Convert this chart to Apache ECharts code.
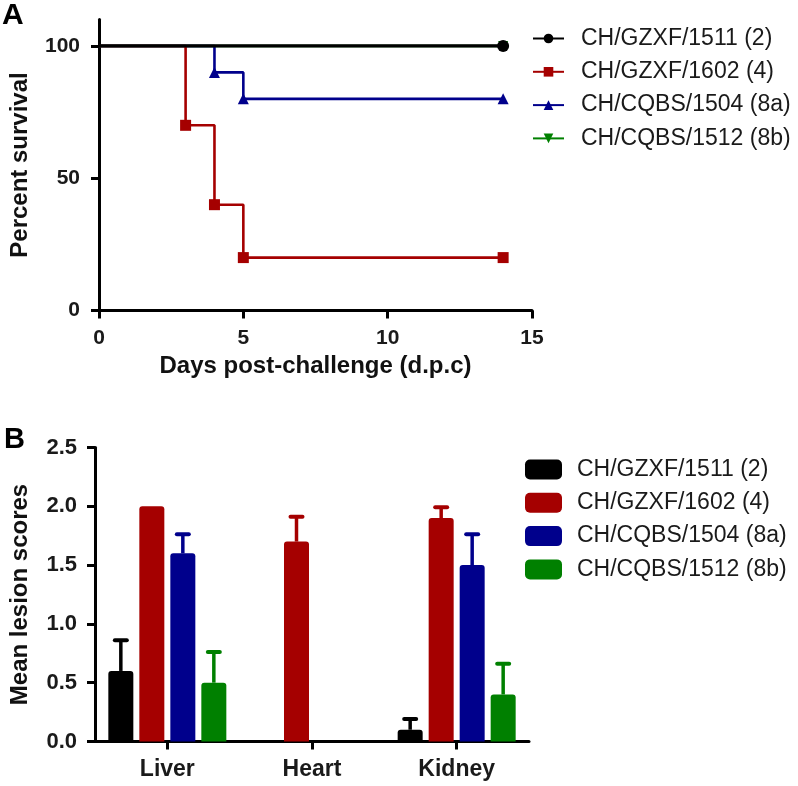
<!DOCTYPE html>
<html>
<head>
<meta charset="utf-8">
<script src="https://cdn.jsdelivr.net/npm/echarts@6/dist/echarts.min.js"></script>
<style>
html,body{margin:0;padding:0;background:#fff;}
#chart{width:798px;height:786px;}
</style>
</head>
<body>
<div id="chart"></div>
<script>
// ---------- Panel A data (survival) ----------
const seriesNames = ['CH/GZXF/1511 (2)', 'CH/GZXF/1602 (4)', 'CH/CQBS/1504 (8a)', 'CH/CQBS/1512 (8b)'];
const seriesColors = ['#000000', '#a50000', '#00008c', '#008000'];
const blackDays = [0, 14];
const blackSurv = [100, 100];
const redDays = [0, 3, 4, 5, 14];
const redSurv = [100, 70, 40, 20, 20];
const blueDays = [0, 4, 5, 14];
const blueSurv = [100, 90, 80, 80];
const greenDays = [0, 14];
const greenSurv = [100, 100];
const survTicksY = [0, 50, 100];

// ---------- Panel B data (lesion scores) ----------
const organs = ['Liver', 'Heart', 'Kidney'];
const blackMean = [0.6, 0, 0.1];
const blackErr = [0.27, 0, 0.1];
const redMean = [2.0, 1.7, 1.9];
const redErr = [0, 0.22, 0.1];
const blueMean = [1.6, 0, 1.5];
const blueErr = [0.17, 0, 0.27];
const greenMean = [0.5, 0, 0.4];
const greenErr = [0.27, 0, 0.27];

const FONT = '"Liberation Sans", Arial, sans-serif';
const BAR_W = 25, BAR_GAP = 6;

function kmData(days, surv) {
  return days.map((d, i) => i === 0 ? { value: [d, surv[i]], symbol: 'none' } : [d, surv[i]]);
}

const kmSets = [[blackDays, blackSurv], [redDays, redSurv], [blueDays, blueSurv], [greenDays, greenSurv]];
const kmSymbols = ['circle', 'rect', 'triangle', 'triangle'];
const kmSizes = [12, 11, 11, 10];
const kmZ = [5, 4, 3, 2];

const series = [];
kmSets.forEach((s, i) => {
  series.push({
    type: 'line', name: seriesNames[i], xAxisIndex: 0, yAxisIndex: 0,
    step: 'end', data: kmData(s[0], s[1]),
    symbol: kmSymbols[i], symbolSize: kmSizes[i], symbolRotate: i === 3 ? 180 : 0,
    showAllSymbol: true,
    lineStyle: { color: seriesColors[i], width: i === 0 ? 3.2 : 2.6 },
    itemStyle: { color: seriesColors[i] },
    z: kmZ[i]
  });
});

const means = [blackMean, redMean, blueMean, greenMean];
const errs = [blackErr, redErr, blueErr, greenErr];
means.forEach((m, i) => {
  series.push({
    type: 'bar', name: seriesNames[i] + '#b', xAxisIndex: 1, yAxisIndex: 1,
    data: m, barWidth: BAR_W, barGap: (BAR_GAP / BAR_W * 100) + '%',
    itemStyle: { color: seriesColors[i], borderRadius: [3, 3, 0, 0] },
    z: 2
  });
});
means.forEach((m, i) => {
  const data = m.map((v, k) => [k, v, errs[i][k]]);
  series.push({
    type: 'custom', name: seriesNames[i] + '#b', xAxisIndex: 1, yAxisIndex: 1,
    data: data, z: 3,
    renderItem: function (params, api) {
      const err = api.value(2);
      if (!err) return null;
      const cat = api.value(0), mean = api.value(1);
      const base = api.coord([cat, mean]);
      const top = api.coord([cat, mean + err]);
      const x = base[0] + (i - 1.5) * (BAR_W + BAR_GAP);
      return {
        type: 'group', children: [
          { type: 'line', shape: { x1: x, y1: base[1], x2: x, y2: top[1] }, style: { stroke: seriesColors[i], lineWidth: 3.5 } },
          { type: 'line', shape: { x1: x - 6, y1: top[1] + 1, x2: x + 6, y2: top[1] + 1 }, style: { stroke: seriesColors[i], lineWidth: 4, lineCap: 'round' } }
        ]
      };
    }
  });
});

const axisLine = { show: true, lineStyle: { color: '#000', width: 3 } };
const axisTick = { show: true, inside: false, length: 8, lineStyle: { color: '#000', width: 3 } };
const lab = { color: '#1a1a1a', fontFamily: FONT, fontWeight: 'bold', fontSize: 21 };
const nameStyle = { color: '#111', fontFamily: FONT, fontWeight: 'bold', fontSize: 24 };

const option = {
  animation: false,
  backgroundColor: '#fff',
  textStyle: { fontFamily: FONT },
  title: [
    { text: 'A', left: 2, top: 1, padding: 0, textStyle: { fontFamily: FONT, fontWeight: 'bold', fontSize: 30, color: '#000' } },
    { text: 'B', left: 4, top: 425, padding: 0, textStyle: { fontFamily: FONT, fontWeight: 'bold', fontSize: 29, color: '#000' } }
  ],
  legend: [
    {
      data: seriesNames, orient: 'vertical', left: 532, top: 26.5, padding: 0,
      itemWidth: 31, itemHeight: 12, itemGap: 9.3,
      textStyle: { fontFamily: FONT, fontSize: 23, color: '#1a1a1a', lineHeight: 24, padding: [0, 0, 0, 12] },
      selectedMode: false
    },
    {
      data: seriesNames.map(n => ({ name: n + '#b', icon: 'roundRect' })), orient: 'vertical', left: 525, top: 457.5, padding: 0,
      itemWidth: 37, itemHeight: 20, itemGap: 9.3,
      formatter: n => n.replace('#b', ''),
      textStyle: { fontFamily: FONT, fontSize: 23, color: '#1a1a1a', lineHeight: 24, padding: [0, 0, 0, 10] },
      selectedMode: false
    }
  ],
  grid: [
    { left: 97, top: 19.5, width: 435, height: 291 },
    { left: 92, top: 447.5, width: 437, height: 294 }
  ],
  xAxis: [
    {
      type: 'value', gridIndex: 0, min: 0, max: 15, interval: 5,
      name: 'Days post-challenge (d.p.c)', nameLocation: 'middle', nameGap: 44, nameTextStyle: nameStyle,
      axisLine: axisLine, axisTick: axisTick, splitLine: { show: false },
      axisLabel: Object.assign({ margin: 17 }, lab)
    },
    {
      type: 'category', gridIndex: 1, data: organs, boundaryGap: true,
      axisLine: axisLine, axisTick: Object.assign({ alignWithLabel: true }, axisTick),
      axisLabel: Object.assign({ margin: 17 }, lab, { fontSize: 23 })
    }
  ],
  yAxis: [
    {
      type: 'value', gridIndex: 0, min: 0, max: 110,
      name: 'Percent survival', nameLocation: 'middle', nameGap: 67, nameTextStyle: nameStyle,
      axisLine: axisLine, splitLine: { show: false },
      axisTick: Object.assign({ customValues: survTicksY }, axisTick),
      axisLabel: Object.assign({ margin: 19, customValues: survTicksY }, lab)
    },
    {
      type: 'value', gridIndex: 1, min: 0, max: 2.5, interval: 0.5,
      name: 'Mean lesion scores', nameLocation: 'middle', nameGap: 63, nameTextStyle: nameStyle,
      axisLine: axisLine, axisTick: axisTick, splitLine: { show: false },
      axisLabel: Object.assign({ margin: 18, formatter: v => v.toFixed(1) }, lab, { fontSize: 22 })
    }
  ],
  series: series
};

const chart = echarts.init(document.getElementById('chart'), null, { renderer: 'canvas' });
chart.setOption(option);
</script>
</body>
</html>
